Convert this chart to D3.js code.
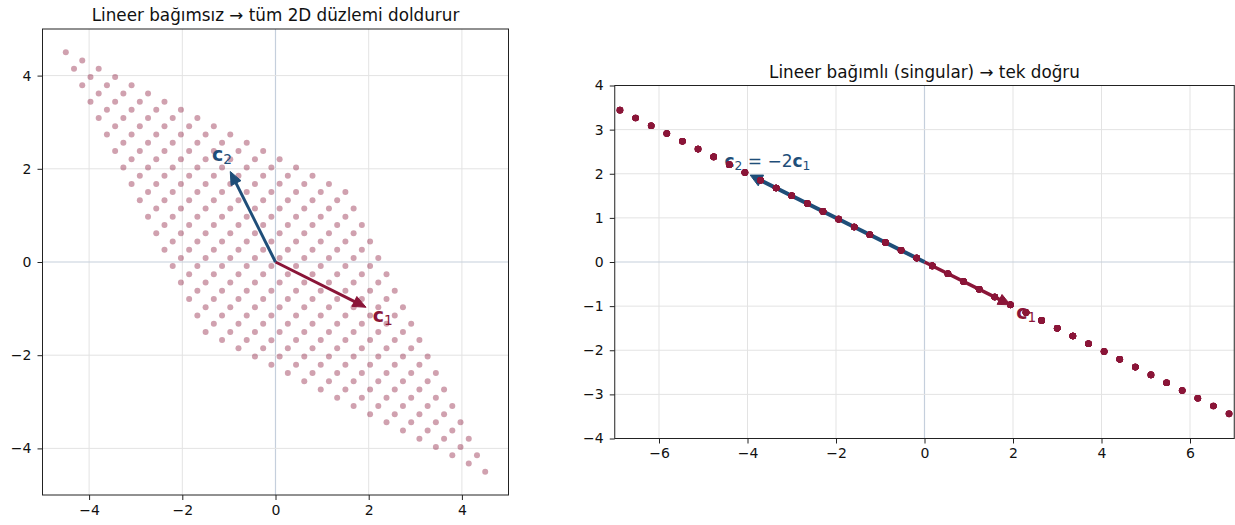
<!DOCTYPE html>
<html>
<head>
<meta charset="utf-8">
<script src="https://cdn.jsdelivr.net/npm/d3@7"></script>
<style>
  body { margin: 0; background: #fff; }
  svg { font-family: "DejaVu Sans", sans-serif; }
</style>
</head>
<body>
<div id="chart"></div>
<script>
// coefficient grid (18 steps from -1.5 to 1.5)
var coefs = [-1.5, -1.3235, -1.1471, -0.9706, -0.7941, -0.6176, -0.4412, -0.2647, -0.0882,
             0.0882, 0.2647, 0.4412, 0.6176, 0.7941, 0.9706, 1.1471, 1.3235, 1.5];
var c1 = [2, -1];
var c2Indep = [-1, 2];
var c2Dep = [-4, 2];   // = -2 * c1

var leftTicks = [-4, -2, 0, 2, 4];
var rightXTicks = [-6, -4, -2, 0, 2, 4, 6];
var rightYTicks = [-4, -3, -2, -1, 0, 1, 2, 3, 4];

var leftTitle = "Lineer bağımsız → tüm 2D düzlemi doldurur";
var rightTitle = "Lineer bağımlı (singular) → tek doğru";

var red = "#8a1538";
var blue = "#1f4e79";

var W = 1235, H = 525;
var svg = d3.select("#chart").append("svg")
    .attr("width", W)
    .attr("height", H);

var defs = svg.append("defs");

function combos(v1, v2) {
  var pts = [];
  coefs.forEach(function(a) {
    coefs.forEach(function(b) {
      pts.push([a * v1[0] + b * v2[0], a * v1[1] + b * v2[1]]);
    });
  });
  return pts;
}

function makePanel(opt) {
  var x = d3.scaleLinear().domain(opt.xDomain).range([opt.left, opt.right]);
  var y = d3.scaleLinear().domain(opt.yDomain).range([opt.bottom, opt.top]);
  var g = svg.append("g");

  defs.append("clipPath").attr("id", opt.id + "-clip")
    .append("rect")
    .attr("x", opt.left).attr("y", opt.top)
    .attr("width", opt.right - opt.left)
    .attr("height", opt.bottom - opt.top);

  // grid
  var grid = g.append("g");
  grid.selectAll(".gx").data(opt.xTicks).enter().append("line")
    .attr("x1", d => x(d)).attr("x2", d => x(d))
    .attr("y1", opt.top).attr("y2", opt.bottom)
    .attr("stroke", d => d === 0 ? "#c5cfdc" : "#e3e3e3")
    .attr("stroke-width", d => d === 0 ? 1.2 : 1);
  grid.selectAll(".gy").data(opt.yTicks).enter().append("line")
    .attr("y1", d => y(d)).attr("y2", d => y(d))
    .attr("x1", opt.left).attr("x2", opt.right)
    .attr("stroke", d => d === 0 ? "#c5cfdc" : "#e3e3e3")
    .attr("stroke-width", d => d === 0 ? 1.2 : 1);

  var plot = g.append("g").attr("clip-path", "url(#" + opt.id + "-clip)");

  // axes
  var fmt = d3.format("d");
  var xa = g.append("g")
    .attr("transform", "translate(0," + opt.bottom + ")")
    .call(d3.axisBottom(x).tickValues(opt.xTicks).tickFormat(fmt).tickSize(5).tickPadding(5));
  var ya = g.append("g")
    .attr("transform", "translate(" + opt.left + ",0)")
    .call(d3.axisLeft(y).tickValues(opt.yTicks).tickFormat(fmt).tickSize(5).tickPadding(6));
  [xa, ya].forEach(function(a) {
    a.select(".domain").remove();
    a.selectAll("text").attr("font-size", 14).attr("fill", "#111")
      .attr("font-family", "DejaVu Sans");
    a.selectAll("line").attr("stroke", "#222");
  });

  g.append("rect")
    .attr("x", opt.left).attr("y", opt.top)
    .attr("width", opt.right - opt.left)
    .attr("height", opt.bottom - opt.top)
    .attr("fill", "none").attr("stroke", "#222").attr("stroke-width", 1);

  g.append("text")
    .attr("x", (opt.left + opt.right) / 2)
    .attr("y", opt.top - 8)
    .attr("text-anchor", "middle")
    .attr("font-size", 16.8)
    .attr("fill", "#111")
    .text(opt.title);

  return {x: x, y: y, plot: plot};
}

function arrow(sel, x, y, v, color, width, hl, hw) {
  var x0 = x(0), y0 = y(0);
  var x1 = x(v[0]), y1 = y(v[1]);
  var dx = x1 - x0, dy = y1 - y0;
  var len = Math.sqrt(dx * dx + dy * dy);
  var ux = dx / len, uy = dy / len;
  var tipX = x1 - ux * 3, tipY = y1 - uy * 3;
  var bx = tipX - ux * hl, by = tipY - uy * hl;
  sel.append("line")
    .attr("x1", x0).attr("y1", y0)
    .attr("x2", bx + ux * 2).attr("y2", by + uy * 2)
    .attr("stroke", color).attr("stroke-width", width);
  sel.append("path")
    .attr("d", "M" + tipX + "," + tipY +
      "L" + (bx - uy * hw) + "," + (by + ux * hw) +
      "L" + (bx + uy * hw) + "," + (by - ux * hw) + "Z")
    .attr("fill", color).attr("stroke", color).attr("stroke-width", 1)
    .attr("stroke-linejoin", "round");
}

function boldSub(sel, px, py, color, size, parts) {
  var t = sel.append("text")
    .attr("x", px).attr("y", py)
    .attr("text-anchor", "middle")
    .attr("font-size", size)
    .attr("fill", color);
  parts.forEach(function(p) {
    var ts = t.append("tspan").text(p.t);
    if (p.b) ts.attr("font-weight", "bold");
    if (p.s) ts.attr("font-size", size * 0.72).attr("dy", size * 0.18);
    if (p.up) ts.attr("dy", -size * 0.18);
  });
  return t;
}

// left panel: independent
var L = makePanel({
  id: "left", left: 42.5, right: 508.5, top: 29, bottom: 495,
  xDomain: [-5, 5], yDomain: [-5, 5],
  xTicks: leftTicks, yTicks: leftTicks, title: leftTitle
});

L.plot.selectAll("circle").data(combos(c1, c2Indep)).enter().append("circle")
  .attr("cx", d => L.x(d[0])).attr("cy", d => L.y(d[1]))
  .attr("r", 3)
  .attr("fill", red).attr("fill-opacity", 0.4);

arrow(L.plot, L.x, L.y, c1, red, 3, 13, 5.5);
arrow(L.plot, L.x, L.y, c2Indep, blue, 3, 13, 5.5);

boldSub(L.plot, L.x(c2Indep[0] * 1.15), L.y(c2Indep[1] * 1.15) + 6, blue, 19,
  [{t: "c", b: true}, {t: "2", s: true}]);
boldSub(L.plot, L.x(c1[0] * 1.15), L.y(c1[1] * 1.15) + 6, red, 19,
  [{t: "c", b: true}, {t: "1", s: true}]);

// right panel: dependent
var R = makePanel({
  id: "right", left: 614.75, right: 1234.25, top: 85.5, bottom: 438.5,
  xDomain: [-7, 7], yDomain: [-4, 4],
  xTicks: rightXTicks, yTicks: rightYTicks, title: rightTitle
});

arrow(R.plot, R.x, R.y, c1, red, 3.5, 12, 5.5);
arrow(R.plot, R.x, R.y, c2Dep, blue, 4, 12, 6);

boldSub(R.plot, R.x(-3.55), R.y(2.3) + 6, blue, 17,
  [{t: "c", b: true}, {t: "2", s: true}, {t: " = −2", up: true}, {t: "c", b: true}, {t: "1", s: true}]);
boldSub(R.plot, R.x(c1[0] * 1.15), R.y(c1[1] * 1.15) + 6, red, 19,
  [{t: "c", b: true}, {t: "1", s: true}]);

R.plot.selectAll("circle").data(combos(c1, c2Dep)).enter().append("circle")
  .attr("cx", d => R.x(d[0])).attr("cy", d => R.y(d[1]))
  .attr("r", 3.3)
  .attr("fill", red);
</script>
</body>
</html>
